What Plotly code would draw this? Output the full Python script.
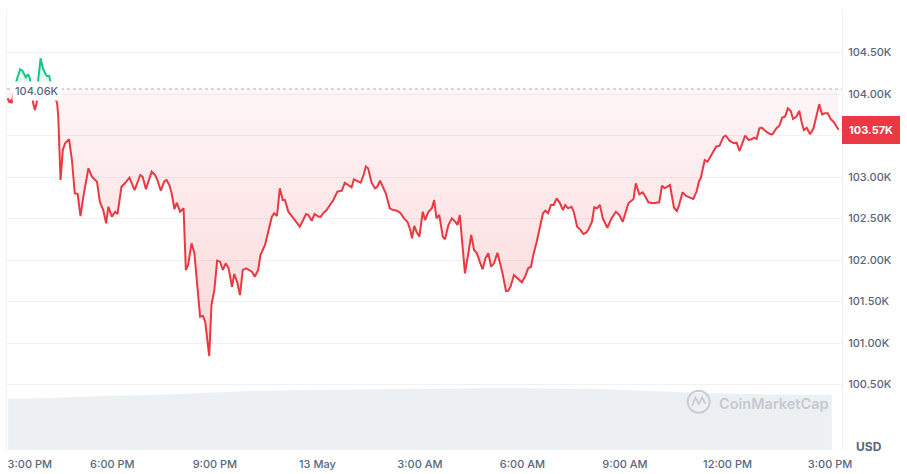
import pandas as pd
import plotly.graph_objects as go

# ---------------- data ----------------
start = pd.Timestamp("2025-05-12 15:00")

# minutes after 12 May 15:00
minutes = [
    -4, -1, 2, 3, 12, 18, 22, 25, 28, 32,
    35, 41, 44, 47, 50, 54, 58, 62, 65, 69,
    72, 79, 83, 85, 89, 93, 97, 104, 109, 114,
    119, 124, 129, 138, 144, 153, 158, 164, 169, 173,
    179, 185, 189, 196, 202, 210, 219, 229, 233, 239,
    249, 255, 259, 265, 271, 275, 280, 284, 289, 293,
    299, 305, 309, 313, 319, 324, 328, 334, 339, 343,
    350, 354, 359, 364, 369, 374, 379, 384, 390, 394,
    399, 404, 409, 415, 425, 430, 436, 440, 448, 454,
    460, 464, 469, 474, 479, 483, 489, 498, 502, 509,
    515, 520, 524, 530, 535, 542, 546, 550, 556, 562,
    568, 575, 583, 588, 594, 600, 604, 610, 616, 621,
    625, 629, 635, 641, 645, 650, 656, 660, 667, 673,
    680, 686, 692, 698, 703, 706, 710, 714, 719, 725,
    729, 735, 741, 745, 749, 754, 760, 764, 770, 776,
    782, 786, 790, 795, 799, 805, 810, 815, 820, 825,
    830, 835, 840, 845, 850, 856, 861, 865, 871, 875,
    879, 885, 891, 899, 905, 910, 915, 919, 925, 932,
    936, 940, 945, 950, 955, 960, 966, 971, 975, 980,
    986, 990, 996, 1001, 1007, 1012, 1016, 1022, 1026, 1031,
    1036, 1041, 1049, 1057, 1064, 1070, 1076, 1086, 1095, 1099,
    1105, 1111, 1115, 1121, 1130, 1140, 1145, 1150, 1159, 1166,
    1171, 1175, 1181, 1187, 1194, 1200, 1206, 1210, 1213, 1220,
    1225, 1232, 1240, 1246, 1253, 1257, 1264, 1271, 1276, 1281,
    1285, 1291, 1297, 1302, 1307, 1311, 1316, 1320, 1328, 1335,
    1339, 1346, 1351, 1356, 1361, 1366, 1371, 1375, 1381, 1386,
    1390, 1394, 1399, 1405, 1411, 1417, 1421, 1426, 1431, 1436,
    1441, 1446, 1455,
]

# BTC price, USD
prices = [
    103948, 103907, 103928, 103888, 104169, 104298, 104281, 104229, 104201, 104241,
    104189, 103888, 103807, 103888, 104189, 104430, 104310, 104249, 104217, 104217,
    104129, 103968, 103888, 103727, 102964, 103325, 103406, 103454, 103205, 102804,
    102795, 102530, 102763, 103105, 103004, 102943, 102702, 102602, 102442, 102642,
    102522, 102582, 102554, 102883, 102924, 102992, 102843, 103024, 103004, 102852,
    103064, 103024, 102964, 102835, 102943, 102964, 102904, 102804, 102611, 102690,
    102582, 102623, 101880, 101940, 102201, 102081, 101799, 101317, 101325, 101257,
    100843, 101458, 101639, 101992, 101980, 101880, 101960, 101900, 101678, 101831,
    101739, 101578, 101880, 101900, 101859, 101799, 101880, 102060, 102181, 102341,
    102522, 102563, 102530, 102864, 102723, 102723, 102582, 102502, 102461, 102401,
    102482, 102554, 102542, 102473, 102554, 102522, 102522, 102563, 102602, 102663,
    102723, 102823, 102835, 102931, 102904, 102876, 102972, 102955, 102931, 103024,
    103124, 103105, 102931, 102864, 102883, 102955, 102864, 102804, 102623, 102602,
    102594, 102563, 102502, 102461, 102361, 102261, 102410, 102341, 102281, 102582,
    102482, 102582, 102623, 102723, 102502, 102542, 102281, 102249, 102422, 102502,
    102461, 102422, 102542, 102160, 101840, 102081, 102301, 102121, 102081, 101980,
    101888, 102021, 102081, 101919, 101960, 102088, 101960, 101840, 101627, 101630,
    101678, 101819, 101780, 101731, 101807, 101900, 101919, 102060, 102221, 102442,
    102563, 102594, 102563, 102663, 102663, 102743, 102683, 102602, 102663, 102623,
    102642, 102582, 102401, 102370, 102313, 102329, 102370, 102461, 102635, 102623,
    102663, 102502, 102389, 102510, 102582, 102542, 102461, 102683, 102735, 102924,
    102792, 102816, 102775, 102695, 102683, 102695, 102895, 102864, 102904, 102630,
    102590, 102663, 102816, 102771, 102751, 102735, 102831, 102952, 102984, 103205,
    103184, 103274, 103365, 103377, 103486, 103498, 103434, 103406, 103413, 103313,
    103386, 103498, 103446, 103454, 103474, 103458, 103587, 103594, 103546, 103515,
    103515, 103587, 103618, 103715, 103727, 103828, 103795, 103699, 103727, 103795,
    103666, 103566, 103594, 103515, 103587, 103768, 103876, 103755, 103768, 103768,
    103699, 103666, 103570,
]

base_price = 104060          # reference (open) price, dotted line
last_price = prices[-1]

# 24h volume (USD bn), faint area at the bottom
vol_minutes = [-3, 71, 159, 246, 334, 422, 510, 597, 685, 773, 861, 948, 1036, 1124, 1212, 1300, 1387, 1443]
vol_values = [37.1, 37.8, 39.3, 40.0, 41.5, 42.9, 43.6, 44.0, 44.4, 44.4, 45.1, 44.7, 44.4, 42.9, 41.5, 40.7, 40.0, 40.0]

tick_times = ["2025-05-12 15:00", "2025-05-12 18:00", "2025-05-12 21:00", "2025-05-13 00:00",
              "2025-05-13 03:00", "2025-05-13 06:00", "2025-05-13 09:00", "2025-05-13 12:00",
              "2025-05-13 15:00"]
tick_labels = ["3:00 PM", "6:00 PM", "9:00 PM", "13 May", "3:00 AM", "6:00 AM",
               "9:00 AM", "12:00 PM", "3:00 PM"]

y_ticks = [100500, 101000, 101500, 102000, 102500, 103000, 103500, 104000, 104500, 105000]
hidden_y_labels = [103500, 105000]   # covered by the price tag / clipped at top in the original

# ---------------- layout constants ----------------
x_range = ["2025-05-12 14:55", "2025-05-13 15:21"]
y_range = [99711, 105012]
vol_range = [0, 320]

RED = "#ea3943"
GREEN = "#16c784"
TEXT = "#58667e"
GRID = "#eff2f5"
FONT = "Inter"

times = [start + pd.Timedelta(minutes=m) for m in minutes]
vol_times = [start + pd.Timedelta(minutes=m) for m in vol_minutes]
base_line = [base_price] * len(times)

frac = (base_price - y_range[0]) / (y_range[1] - y_range[0])

fig = go.Figure()

# volume area (on its own overlaid x2/y2 pair; x2 also carries the edge tick label)
fig.add_trace(go.Scatter(x=vol_times, y=vol_values, xaxis="x2", yaxis="y2", mode="lines",
                         line=dict(width=0, color="#edf0f3"), fill="tozeroy",
                         fillcolor="#edf0f3", hoverinfo="skip", showlegend=False))

# below-baseline (red) part, clipped to the lower subplot
fig.add_trace(go.Scatter(x=times, y=base_line, yaxis="y3", mode="lines",
                         line=dict(width=0, color=RED), hoverinfo="skip", showlegend=False))
fig.add_trace(go.Scatter(x=times, y=prices, yaxis="y3", mode="lines",
                         line=dict(width=2, color=RED), fill="tonexty",
                         fillgradient=dict(type="vertical", start=min(prices), stop=base_price,
                                           colorscale=[[0, "rgba(234,57,67,0.20)"],
                                                       [1, "rgba(234,57,67,0.05)"]]),
                         showlegend=False))

# above-baseline (green) part, clipped to the upper subplot
fig.add_trace(go.Scatter(x=times, y=base_line, yaxis="y4", mode="lines",
                         line=dict(width=0, color=GREEN), hoverinfo="skip", showlegend=False))
fig.add_trace(go.Scatter(x=times, y=prices, yaxis="y4", mode="lines",
                         line=dict(width=2, color=GREEN), fill="tonexty",
                         fillgradient=dict(type="vertical", start=base_price, stop=max(prices),
                                           colorscale=[[0, "rgba(22,199,132,0.05)"],
                                                       [1, "rgba(22,199,132,0.25)"]]),
                         showlegend=False))

yt_text = ["" if v in hidden_y_labels else f"{v / 1000:.2f}K" for v in y_ticks]
tick_font = dict(family=FONT, size=11, color=TEXT, weight=500)

fig.update_layout(
    width=907, height=474,
    margin=dict(l=7, r=65, t=10, b=24, autoexpand=False),
    paper_bgcolor="white", plot_bgcolor="rgba(0,0,0,0)",
    font=dict(family=FONT, size=11, color=TEXT),
    showlegend=False,
    xaxis=dict(type="date", range=x_range, tickvals=tick_times[1:], ticktext=tick_labels[1:],
               showgrid=False, zeroline=False, showline=False, ticks="", automargin=False,
               tickfont=tick_font, ticklabelstandoff=6, fixedrange=True),
    # first label is shifted inward so that it stays inside the chart, as in the original
    xaxis2=dict(type="date", overlaying="x", side="bottom", range=x_range,
                tickvals=tick_times[:1], ticktext=tick_labels[:1], ticklabelshift=20,
                showgrid=False, zeroline=False, showline=False, ticks="", automargin=False,
                tickfont=tick_font, ticklabelstandoff=6, fixedrange=True),
    yaxis=dict(range=y_range, side="right", tickvals=y_ticks, ticktext=yt_text,
               showgrid=True, gridcolor=GRID, gridwidth=1, zeroline=False, automargin=False,
               showline=True, mirror=True, linecolor=GRID, ticks="",
               tickfont=tick_font, ticklabelstandoff=3, fixedrange=True),
    yaxis2=dict(overlaying="y", range=vol_range, visible=False, fixedrange=True, automargin=False),
    yaxis3=dict(domain=[0, frac], range=[y_range[0], base_price], anchor="x",
                visible=False, fixedrange=True, automargin=False),
    yaxis4=dict(domain=[frac, 1], range=[base_price, y_range[1]], anchor="x",
                visible=False, fixedrange=True, automargin=False),
)

# dotted baseline
fig.add_shape(type="line", xref="paper", x0=0, x1=1, yref="y", y0=base_price, y1=base_price,
              line=dict(color="#a6b0c3", width=1, dash="dot"))

# watermark logo
wm_x = (698.7 - 7) / 835
wm_y = (450 - 401.7) / 440
fig.add_shape(type="circle", xref="paper", yref="paper", xsizemode="pixel", ysizemode="pixel",
              xanchor=wm_x, yanchor=wm_y, x0=-11, x1=11, y0=-11, y1=11,
              line=dict(color="#c9ced6", width=2))
fig.add_shape(type="path", xref="paper", yref="paper", xsizemode="pixel", ysizemode="pixel",
              xanchor=wm_x, yanchor=wm_y,
              path="M -6.5,-4 L -3.5,4 L 0,-2 L 3.5,4 L 6.5,-2",
              line=dict(color="#c9ced6", width=2))

fig.add_annotation(text="CoinMarketCap", xref="paper", yref="paper",
                   x=(716.7 - 7) / 835, y=(450 - 403.3) / 440, xanchor="left", yanchor="middle",
                   showarrow=False, font=dict(family=FONT, size=14.5, color="#c4c9d1", weight=600))

# baseline label
fig.add_annotation(text=f"{base_price / 1000:.2f}K", xref="paper", x=0, xanchor="left", xshift=5,
                   yref="y", y=base_price, yanchor="middle", yshift=-2, showarrow=False,
                   bgcolor="white", borderpad=2,
                   font=dict(family=FONT, size=11, color=TEXT, weight=500))

# current price tag
fig.add_annotation(text=f"<b>{last_price / 1000:.2f}K</b>", xref="paper", x=1, xanchor="left",
                   yref="y", y=last_price, yanchor="middle", showarrow=False,
                   bgcolor=RED, bordercolor=RED, borderwidth=1, borderpad=6,
                   font=dict(family=FONT, size=11, color="white"))

# currency label
fig.add_annotation(text="<b>USD</b>", xref="paper", x=1, xanchor="left", xshift=12,
                   yref="paper", y=0, yanchor="middle", yshift=4, showarrow=False,
                   font=dict(family=FONT, size=12, color=TEXT))

fig.write_html("out.html", config={"displayModeBar": False},
               post_script="document.body.style.margin='0';document.body.style.padding='0';")
